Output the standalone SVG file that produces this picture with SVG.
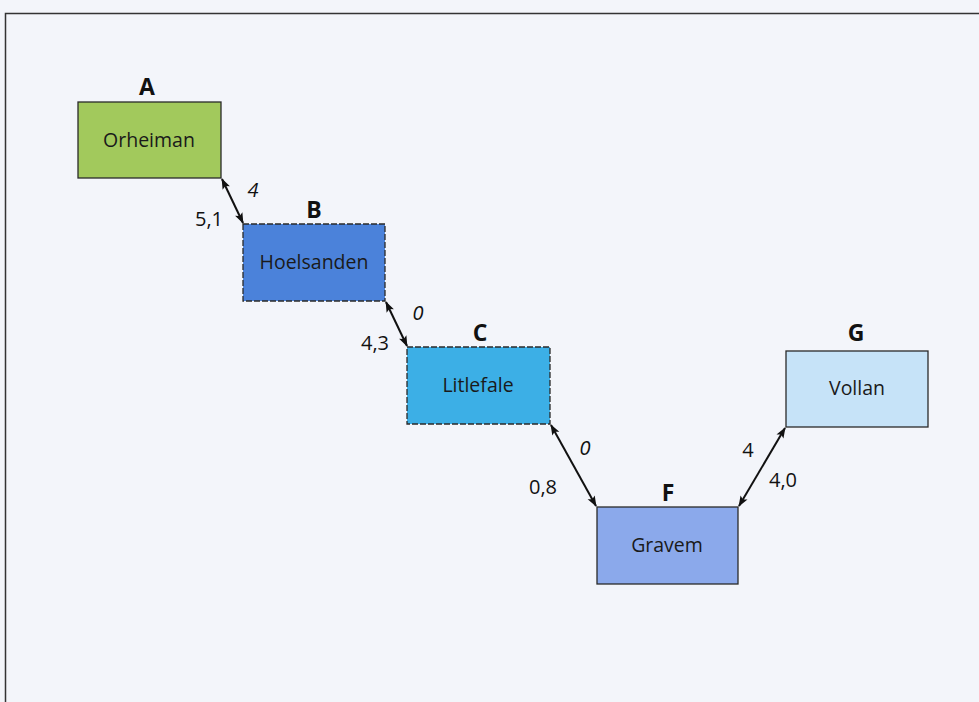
<svg xmlns="http://www.w3.org/2000/svg" width="979" height="702" viewBox="0 0 979 702">
<style>
.box{stroke:#2a2a2a;stroke-width:1.3}
.dash{stroke-dasharray:6 2}
.name{font-family:"Open Sans","Liberation Sans",sans-serif;font-size:19.5px;fill:#1a1a1a;text-anchor:middle}
.letter{font-family:"Open Sans","Liberation Sans",sans-serif;font-size:23px;font-weight:bold;fill:#111;text-anchor:middle}
.num{font-family:"Open Sans","Liberation Sans",sans-serif;font-size:20px;fill:#111;text-anchor:middle}
.it{font-style:italic}
.conn{stroke:#111;stroke-width:2;fill:none;marker-start:url(#ah);marker-end:url(#ah)}
</style>
<defs>
<marker id="ah" viewBox="0 0 12 10" refX="11" refY="5" markerWidth="12" markerHeight="9" orient="auto-start-reverse" markerUnits="userSpaceOnUse">
<path d="M0,0.5 L12,5 L0,9.5 L2.5,5 z" fill="#111"/>
</marker>
</defs>
<rect x="0" y="0" width="979" height="702" fill="#f3f5fa"/>
<path d="M5.5,702 V13.5 H979" fill="none" stroke="#333" stroke-width="1.5"/>
<g id="nodeA">
<text class="letter" x="147" y="95">A</text>
<rect class="box" x="78" y="102" width="143" height="76" fill="#a2c95c"/>
<text class="name" x="149" y="147">Orheiman</text>
</g>
<g id="nodeB">
<text class="letter" x="314" y="218">B</text>
<rect class="box dash" x="243" y="224" width="142" height="77" fill="#4b82da"/>
<text class="name" x="314" y="269">Hoelsanden</text>
</g>
<g id="nodeC">
<text class="letter" x="480" y="341">C</text>
<rect class="box dash" x="407" y="347" width="143" height="77" fill="#3cafe6"/>
<text class="name" x="478" y="392">Litlefale</text>
</g>
<g id="nodeF">
<text class="letter" x="668" y="501">F</text>
<rect class="box" x="597" y="507" width="141" height="77" fill="#8ba9eb"/>
<text class="name" x="667" y="552">Gravem</text>
</g>
<g id="nodeG">
<text class="letter" x="856" y="341">G</text>
<rect class="box" x="786" y="351" width="142" height="76" fill="#c6e3f8"/>
<text class="name" x="857" y="395">Vollan</text>
</g>
<g id="connectors">
<line class="conn" x1="222" y1="179" x2="243" y2="223"/>
<line class="conn" x1="386" y1="302" x2="407" y2="346"/>
<line class="conn" x1="551" y1="425" x2="596" y2="506"/>
<line class="conn" x1="739" y1="506" x2="785" y2="428"/>
<text class="num it" x="253" y="197">4</text>
<text class="num" x="209" y="226">5,1</text>
<text class="num it" x="418" y="320">0</text>
<text class="num" x="375" y="350">4,3</text>
<text class="num it" x="585" y="455">0</text>
<text class="num" x="543" y="494">0,8</text>
<text class="num" x="748" y="457">4</text>
<text class="num" x="783" y="487">4,0</text>
</g>
</svg>
